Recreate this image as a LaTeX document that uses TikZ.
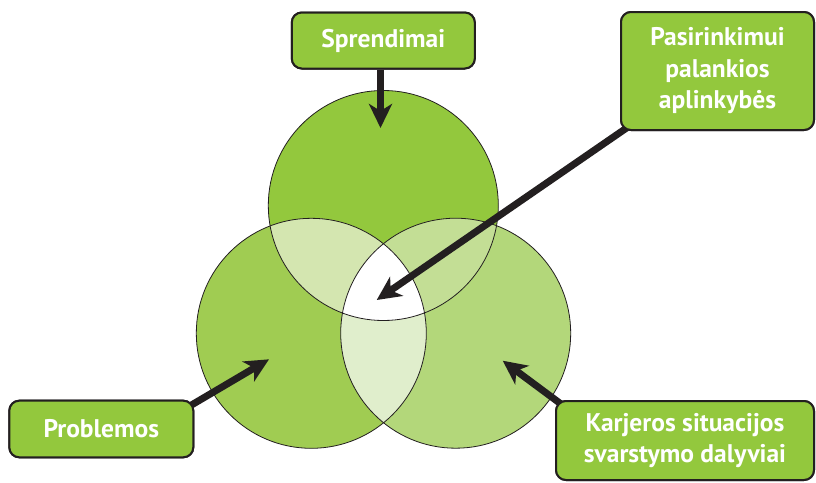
\documentclass[tikz,border=0pt]{standalone}
\usepackage{fontspec}
\setmainfont{PT Sans}
\usetikzlibrary{arrows.meta}
\definecolor{cTop}{HTML}{93C83D}
\definecolor{cLeft}{HTML}{A0CC52}
\definecolor{cRight}{HTML}{B3D77A}
\definecolor{cTL}{HTML}{D4E6B0}
\definecolor{cTR}{HTML}{C3DE95}
\definecolor{cLR}{HTML}{E0EECC}
\definecolor{cBox}{HTML}{93C83D}
\definecolor{cInk}{HTML}{231F20}
\tikzset{
  labelbox/.style={draw=cInk, line width=2pt, fill=cBox, rounded corners=10pt,
    text=white, font=\bfseries\fontsize{25.5}{31.5}\selectfont, align=center, inner sep=0pt},
  bigarrow/.style={draw=cInk, line width=7pt, -{Stealth[length=24pt, width=23pt, inset=7pt]}},
  ring/.style={draw=cInk, line width=0.8pt}
}
\begin{document}
\begin{tikzpicture}[x=1pt, y=-1pt]
\useasboundingbox (0,0) rectangle (816,482);
\coordinate (T) at (383.3,205.5);
\coordinate (L) at (311.3,333.3);
\coordinate (R) at (455.7,333.2);
\def\rr{115}
% circle fills
\fill[cTop] (T) circle (\rr);
\fill[cLeft] (L) circle (\rr);
\fill[cRight] (R) circle (\rr);
\begin{scope}\clip (T) circle (\rr); \fill[cTL] (L) circle (\rr); \end{scope}
\begin{scope}\clip (T) circle (\rr); \fill[cTR] (R) circle (\rr); \end{scope}
\begin{scope}\clip (L) circle (\rr); \fill[cLR] (R) circle (\rr); \end{scope}
\begin{scope}\clip (T) circle (\rr); \clip (L) circle (\rr); \fill[white] (R) circle (\rr); \end{scope}
\draw[ring] (T) circle (\rr);
\draw[ring] (L) circle (\rr);
\draw[ring] (R) circle (\rr);
% arrow tips
\coordinate (tipS) at (380.5,128);
\coordinate (tipC) at (376.7,300);
\coordinate (tipP) at (269,359.3);
\coordinate (tipK) at (502.7,360.7);
% boxes (positions)
\path node[labelbox, minimum width=183pt, minimum height=56pt] (s) at (383.3,40.5) {Sprendimai};
\path node[labelbox, minimum width=193pt, minimum height=118pt] (p) at (717.5,71) {Pasirinkimui\\palankios\\aplinkybės};
\path node[labelbox, minimum width=184pt, minimum height=56.6pt] (pr) at (101.3,429) {Problemos};
\path node[labelbox, minimum width=258pt, minimum height=79pt] (k) at (685,440.5) {Karjeros situacijos\\svarstymo dalyviai};
% arrows
\draw[bigarrow] (s.south -| tipS) -- (tipS);
\draw[bigarrow] ([shift={(8,-4)}]p.south west) -- (tipC);
\draw[bigarrow] ([shift={(-4,6)}]pr.north east) -- (tipP);
\draw[bigarrow] ([shift={(6,4)}]k.north west) -- (tipK);
% redraw boxes on top
\node[labelbox, minimum width=183pt, minimum height=56pt] at (s) {Sprendimai};
\node[labelbox, minimum width=193pt, minimum height=118pt] at (p) {Pasirinkimui\\palankios\\aplinkybės};
\node[labelbox, minimum width=184pt, minimum height=56.6pt] at (pr) {Problemos};
\node[labelbox, minimum width=258pt, minimum height=79pt] at (k) {Karjeros situacijos\\svarstymo dalyviai};
\end{tikzpicture}
\end{document}
